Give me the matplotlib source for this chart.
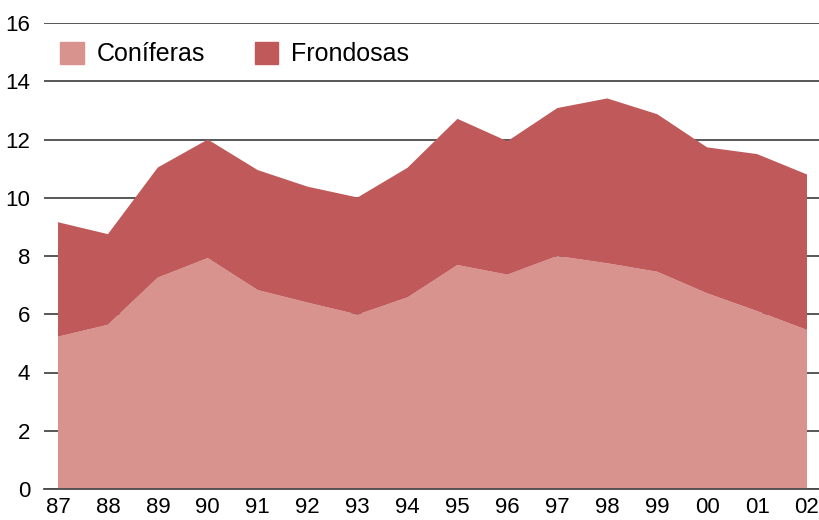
import numpy as np
import matplotlib.pyplot as plt
from matplotlib.patches import Patch

plt.rcParams['font.family'] = ['Liberation Sans', 'DejaVu Sans']

years = ["87", "88", "89", "90", "91", "92", "93", "94", "95", "96",
         "97", "98", "99", "00", "01", "02"]
coniferas = [5.23, 5.64, 7.26, 7.93, 6.83, 6.40, 5.99, 6.58, 7.69, 7.36,
             8.00, 7.75, 7.46, 6.72, 6.11, 5.46]
total = [9.16, 8.75, 11.04, 12.00, 10.95, 10.38, 10.01, 11.03, 12.71, 11.94,
         13.08, 13.41, 12.87, 11.73, 11.50, 10.80]
frondosas = [t - c for t, c in zip(total, coniferas)]

c_light = "#d8938f"
c_dark = "#c0595a"

fig = plt.figure(figsize=(8.19, 5.2), dpi=100)
ax = fig.add_axes([44 / 819, 31 / 520, 775 / 819, 466 / 520])

x = np.arange(len(years))
ax.stackplot(x, coniferas, frondosas, colors=[c_light, c_dark],
             linewidth=0, zorder=2)

ax.set_xlim(-14 / 49.93, 15 + 12 / 49.93)
ax.set_ylim(0, 16)
ax.set_yticks(range(0, 17, 2))
ax.set_xticks(x)
ax.set_xticklabels(years)
ax.yaxis.grid(True, color="#4a4a4a", linewidth=1.3, zorder=1)
ax.set_axisbelow(True)
for s in ["top", "right", "left"]:
    ax.spines[s].set_visible(False)
ax.spines["bottom"].set_color("#4a4a4a")
ax.spines["bottom"].set_linewidth(1.3)
ax.spines["bottom"].set_zorder(3)
ax.tick_params(axis="y", length=0, pad=10, labelsize=16)
ax.tick_params(axis="x", length=0, pad=6, labelsize=16)

handles = [Patch(color=c_light, label="Coníferas"),
           Patch(color=c_dark, label="Frondosas")]
leg = ax.legend(handles=handles, loc="upper left", ncol=2, frameon=False,
                fontsize=18, handlelength=0.95, handleheight=0.95,
                handletextpad=0.5, columnspacing=2.0, borderpad=0,
                borderaxespad=0, bbox_to_anchor=(16 / 775, 1 - 19 / 466))

fig.savefig("out.png", dpi=100)
